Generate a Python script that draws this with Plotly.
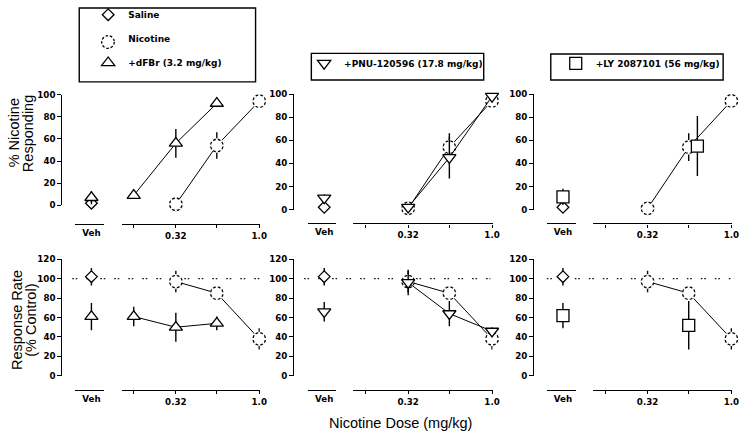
import math
import plotly.graph_objects as go

# ---------------- data ----------------
veh_label = ["Veh"]
dose_ticks = [0.18, 0.32, 0.56, 1.0]
dose_ticktext = ["", "0.32", "", "1.0"]

# Saline (vehicle)
saline_resp = [2]
saline_resp_err = [2]
saline_rate = [102]
saline_rate_err = [9]

# Nicotine alone
nic_doses = [0.32, 0.56, 1.0]
nic_resp = [1, 54, 94]
nic_resp_err = [1, 12, 3]
nic_rate = [97, 85, 38]
nic_rate_err = [11, 2, 11]

# +dFBr (3.2 mg/kg)
dfbr_veh_resp = [7]
dfbr_veh_resp_err = [6]
dfbr_veh_rate = [61]
dfbr_veh_rate_err = [14]
dfbr_doses = [0.18, 0.32, 0.56]
dfbr_resp = [9, 56, 92]
dfbr_resp_err = [2, 13, 3]
dfbr_rate = [61, 50, 54]
dfbr_rate_err = [10, 15, 7]

# +PNU-120596 (17.8 mg/kg)
pnu_veh_resp = [10]
pnu_veh_resp_err = [3]
pnu_veh_rate = [66]
pnu_veh_rate_err = [10]
pnu_doses = [0.32, 0.56, 1.0]
pnu_resp = [2, 45, 98]
pnu_resp_err = [1, 18, 3]
pnu_rate = [96, 64, 46]
pnu_rate_err = [13, 13, 4]

# +LY 2087101 (56 mg/kg)
ly_veh_resp = [11]
ly_veh_resp_err = [7]
ly_veh_rate = [62]
ly_veh_rate_err = [13]
ly_resp_doses = [0.63]
ly_resp = [55]
ly_resp_err = [26]
ly_rate_doses = [0.56]
ly_rate = [52]
ly_rate_err = [25]

series_names = ["Saline", "Nicotine", "+dFBr (3.2 mg/kg)",
                "+PNU-120596 (17.8 mg/kg)", "+LY 2087101 (56 mg/kg)"]

# ---------------- layout geometry ----------------
W, H = 745, 436
def fx(px): return px / W
def fy(py): return 1 - py / H

FONT = "Liberation Sans, Arial, sans-serif"
TFONT = "DejaVu Sans, sans-serif"
TICKFONT = dict(family=TFONT, size=8.7, color="black", weight="bold")

panels = [
    dict(yx=62.0, veh=(75.7, 105.0, 92.3), dose=(123.3, 262.3, 135.0, 261.7), dots=(73, 262)),
    dict(yx=296.0, veh=(310.7, 339.3, 327.3), dose=(356.7, 497.3, 369.3, 496.7), dots=(307, 495)),
    dict(yx=538.3, veh=(551.7, 581.0, 568.3), dose=(599.0, 739.0, 611.0, 738.3), dots=(552, 738)),
]
# per row & panel: (pixel of y=0, pixel of y=top, pixel of x axis line)
rows = [
    dict(top=100, dtick=20, geo=[(204.0, 90.0, 223.0), (208.3, 89.5, 222.5), (208.3, 89.5, 222.5)]),
    dict(top=120, dtick=20, geo=[(379.3, 259.3, 394.0), (379.3, 259.3, 394.0), (379.3, 259.3, 394.0)]),
]

layout = dict(
    width=W, height=H, margin=dict(l=0, r=0, t=0, b=0),
    paper_bgcolor="white", plot_bgcolor="rgba(0,0,0,0)",
    font=dict(family=FONT, color="black"),
    showlegend=True,
)
traces = []
shapes = []
annotations = []

err_style = dict(type="data", visible=True, color="black", thickness=1.4, width=0)
line_style = dict(color="black", width=1)

SIZES = {"diamond": 9, "circle": 12.5, "triangle-up": 11.5, "triangle-down": 11.5, "square": 12}

def mk(sym):
    return dict(symbol=sym, size=SIZES[sym], color="white", line=dict(color="black", width=1.3))

# white asterisk drawn over the nicotine circles -> dashed outline look
gap_marker = dict(symbol="asterisk-open", size=12, color="white", line=dict(color="white", width=2))

xi = 0
yi = 0
for r, row in enumerate(rows):
    for p, pan in enumerate(panels):
        yi += 1
        yname = f"yaxis{yi}" if yi > 1 else "yaxis"
        yref = f"y{yi}" if yi > 1 else "y"
        zero_px, top_px, axis_px = row["geo"][p]
        layout[yname] = dict(
            domain=[fy(zero_px), fy(top_px)], range=[0, row["top"]],
            anchor="free", position=fx(pan["yx"]),
            showline=True, linecolor="black", linewidth=1.4,
            ticks="outside", ticklen=4, tickwidth=1.3, tickcolor="black",
            dtick=row["dtick"], tick0=0, showgrid=False, zeroline=False,
            tickfont=TICKFONT,
        )
        # veh axis
        xi += 1
        vname = f"xaxis{xi}" if xi > 1 else "xaxis"
        vref = f"x{xi}" if xi > 1 else "x"
        l, rgt, m = pan["veh"]
        layout[vname] = dict(
            domain=[fx(l), fx(rgt)], type="category",
            range=[-(m - l) / 30.0, (rgt - m) / 30.0],
            anchor="free", position=fy(axis_px),
            showline=True, linecolor="black", linewidth=1.4,
            ticks="", showgrid=False, zeroline=False, tickfont=TICKFONT,
        )
        # dose axis
        xi += 1
        dname = f"xaxis{xi}"
        dref = f"x{xi}"
        dl, dr, t0, t1 = pan["dose"]
        ppl = (t1 - t0) / (0 - math.log10(dose_ticks[0]))
        layout[dname] = dict(
            domain=[fx(dl), fx(dr)], type="log",
            range=[math.log10(dose_ticks[0]) - (t0 - dl) / ppl, (dr - t1) / ppl],
            anchor="free", position=fy(axis_px),
            showline=True, linecolor="black", linewidth=1.4,
            ticks="outside", ticklen=3, tickwidth=1.3, tickcolor="black",
            tickvals=dose_ticks, ticktext=dose_ticktext,
            showgrid=False, zeroline=False, tickfont=TICKFONT,
        )

        if r == 0:
            sal_y, sal_e = saline_resp, saline_resp_err
            nic_y, nic_e = nic_resp, nic_resp_err
        else:
            sal_y, sal_e = saline_rate, saline_rate_err
            nic_y, nic_e = nic_rate, nic_rate_err

        if r == 1:
            dl0, dl1 = pan["dots"]
            shapes.append(dict(type="line", xref="paper", yref=yref,
                               x0=fx(dl0), x1=fx(dl1), y0=100, y1=100, layer="below",
                               line=dict(color="#111", width=1.3, dash="1.6px,1.8px,1.6px,9px")))

        # nicotine (dose axis)
        traces.append(go.Scatter(
            x=nic_doses, y=nic_y, xaxis=dref, yaxis=yref, mode="lines+markers",
            line=line_style, marker=mk("circle"), cliponaxis=False, showlegend=False,
            error_y=dict(array=nic_e, **err_style)))
        traces.append(go.Scatter(
            x=nic_doses, y=nic_y, xaxis=dref, yaxis=yref, mode="markers",
            marker=gap_marker, cliponaxis=False, showlegend=False, hoverinfo="skip"))

        # drug series
        if p == 0:
            vy, ve = (dfbr_veh_resp, dfbr_veh_resp_err) if r == 0 else (dfbr_veh_rate, dfbr_veh_rate_err)
            dx_, dy_, de_ = (dfbr_doses, dfbr_resp, dfbr_resp_err) if r == 0 else (dfbr_doses, dfbr_rate, dfbr_rate_err)
            sym, mode = "triangle-up", "lines+markers"
        elif p == 1:
            vy, ve = (pnu_veh_resp, pnu_veh_resp_err) if r == 0 else (pnu_veh_rate, pnu_veh_rate_err)
            dx_, dy_, de_ = (pnu_doses, pnu_resp, pnu_resp_err) if r == 0 else (pnu_doses, pnu_rate, pnu_rate_err)
            sym, mode = "triangle-down", "lines+markers"
        else:
            vy, ve = (ly_veh_resp, ly_veh_resp_err) if r == 0 else (ly_veh_rate, ly_veh_rate_err)
            dx_, dy_, de_ = (ly_resp_doses, ly_resp, ly_resp_err) if r == 0 else (ly_rate_doses, ly_rate, ly_rate_err)
            sym, mode = "square", "markers"
        traces.append(go.Scatter(
            x=dx_, y=dy_, xaxis=dref, yaxis=yref, mode=mode, line=line_style,
            marker=mk(sym), cliponaxis=False, showlegend=False,
            error_y=dict(array=de_, **err_style)))
        # veh points
        traces.append(go.Scatter(
            x=veh_label, y=sal_y, xaxis=vref, yaxis=yref, mode="markers",
            marker=mk("diamond"), cliponaxis=False, showlegend=False,
            error_y=dict(array=sal_e, **err_style)))
        traces.append(go.Scatter(
            x=veh_label, y=vy, xaxis=vref, yaxis=yref, mode="markers",
            marker=mk(sym), cliponaxis=False, showlegend=False,
            error_y=dict(array=ve, **err_style)))

# ---------------- legends ----------------
leg_font = dict(family=TFONT, size=9, color="black", weight="bold")
invisible = dict(symbol="circle", size=12.5, color="rgba(0,0,0,0)",
                 line=dict(color="rgba(0,0,0,0)", width=0))
leg_specs = [
    ("legend", series_names[0], mk("diamond"), "g0"),
    ("legend", series_names[1], invisible, "g1"),
    ("legend", series_names[2], mk("triangle-up"), "g2"),
    ("legend2", series_names[3], mk("triangle-down"), "g3"),
    ("legend3", series_names[4], mk("square"), "g4"),
]
for leg, name, mrk, grp in leg_specs:
    traces.append(go.Scatter(x=[None], y=[None], xaxis="x", yaxis="y", mode="markers",
                             name=name, marker=mrk, legend=leg, legendgroup=grp,
                             showlegend=True))

common_leg = dict(bgcolor="rgba(0,0,0,0)", borderwidth=0, font=leg_font,
                  xanchor="left", yanchor="top", itemclick=False, itemdoubleclick=False,
                  traceorder="grouped", itemwidth=30)
layout["legend"] = dict(x=fx(89), y=fy(-7), tracegroupgap=5, **common_leg)
layout["legend2"] = dict(x=fx(307), y=fy(43), **common_leg)
layout["legend3"] = dict(x=fx(561), y=fy(43), **common_leg)

# legend boxes
for (x0, y0, x1, y1) in [(80, 1, 258, 77), (314.3, 47.7, 488.3, 75), (556, 48.3, 730, 75)]:
    shapes.append(dict(type="rect", xref="paper", yref="paper",
                       x0=fx(x0), x1=fx(x1), y0=fy(y1), y1=fy(y0),
                       line=dict(color="black", width=1.4), fillcolor="rgba(0,0,0,0)"))
# dashed circle for Nicotine legend key
shapes.append(dict(type="circle", xref="paper", yref="paper",
                   xsizemode="pixel", ysizemode="pixel",
                   xanchor=fx(109), yanchor=fy(36), x0=-6.3, x1=6.3, y0=-6.3, y1=6.3,
                   line=dict(color="black", width=1.3, dash="2.6px,1.8px")))

# ---------------- titles ----------------
title_font = dict(family=FONT, size=14.5, color="black")
for text, x, y in [("% Nicotine", 15, 129), ("Responding", 29, 130),
                   ("Response Rate", 17, 322), ("(% Control)", 31, 322)]:
    annotations.append(dict(text=text, xref="paper", yref="paper", x=fx(x), y=fy(y),
                            showarrow=False, textangle=-90, font=title_font,
                            xanchor="center", yanchor="middle"))
annotations.append(dict(text="Nicotine Dose (mg/kg)", xref="paper", yref="paper",
                        x=fx(404), y=fy(428), showarrow=False, font=title_font,
                        xanchor="center", yanchor="middle"))

layout["shapes"] = shapes
layout["annotations"] = annotations

fig = go.Figure(data=traces, layout=layout)
fig.write_html("out.html", config={"displayModeBar": False},
               post_script="document.body.style.margin='0px';")
